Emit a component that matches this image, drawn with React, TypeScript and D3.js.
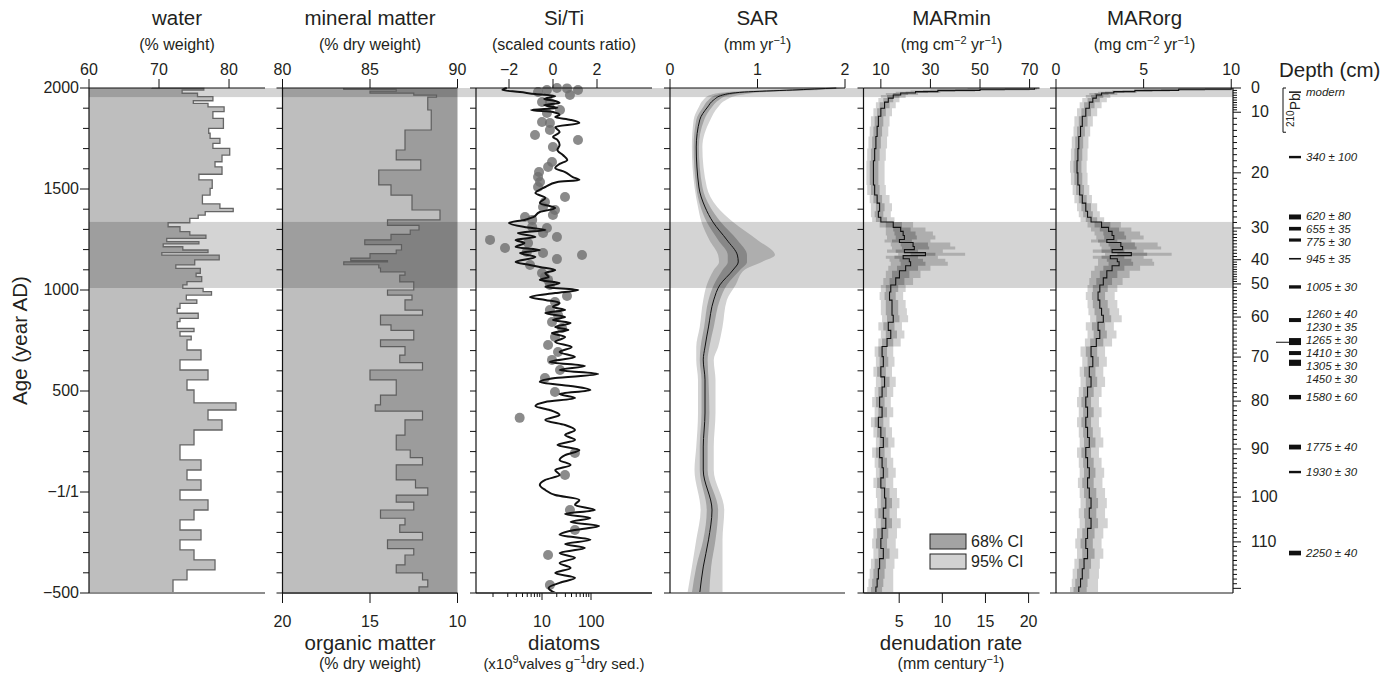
import React from "react";
import * as d3 from "d3";

// ---------- data (ages in years AD) ----------
const waterAge = [2000, 1998, 1990, 1974, 1957, 1937, 1924, 1907, 1883, 1850, 1800, 1776, 1751, 1726, 1701, 1668, 1635, 1610, 1573, 1545, 1503, 1470, 1426, 1404, 1388, 1371, 1355, 1333, 1313, 1289, 1272, 1256, 1239, 1228, 1214, 1198, 1185, 1173, 1149, 1124, 1107, 1083, 1066, 1041, 1025, 1008, 992, 975, 951, 934, 909, 885, 860, 843, 810, 794, 772, 753, 703, 654, 604, 555, 505, 441, 406, 357, 307, 233, 159, 109, 60, 10, -39, -89, -138, -188, -237, -287, -336, -386, -435];
const waterPct = [69, 76.4, 73.3, 75.5, 77.7, 74.9, 77, 79.3, 77.7, 79.2, 77.1, 77.3, 78.7, 77.7, 80.1, 79, 78, 79, 75.7, 77.6, 77.3, 76.2, 78.7, 80.6, 76.6, 75.6, 74.4, 71.3, 73, 74.4, 76.7, 71.1, 75.7, 70.6, 73.4, 77, 70.4, 78.6, 75.1, 72.4, 75.9, 75.3, 76.1, 74, 73.4, 76.3, 77.5, 73.9, 75.4, 73, 72.6, 75.6, 73, 72.6, 75, 73, 74.6, 74, 76, 73, 77, 74, 75, 81, 77, 79, 75, 73, 76, 74, 76, 73, 77, 75, 73, 76, 73, 75, 78, 74, 72];

const mineralAge = [2000, 1993, 1985, 1975, 1965, 1955, 1891, 1792, 1693, 1644, 1594, 1520, 1470, 1396, 1347, 1320, 1297, 1275, 1248, 1225, 1198, 1180, 1158, 1145, 1139, 1125, 1109, 1090, 1074, 1040, 1000, 975, 951, 900, 876, 827, 800, 753, 720, 678, 640, 604, 555, 480, 431, 400, 357, 282, 208, 170, 134, 60, 20, -15, -50, -89, -130, -163, -200, -237, -280, -312, -361, -400, -435, -470];
const mineralPct = [83.5, 86.5, 85, 87.5, 88.8, 88.3, 88.5, 87, 86.5, 87.9, 85.5, 86.2, 87.4, 89, 86, 87.8, 87.3, 86.2, 84.7, 86.8, 86.5, 85, 83.9, 86, 83.5, 85.5, 85.6, 87, 86.7, 87.5, 86, 87.4, 87, 88, 85.6, 86.2, 87.5, 85.6, 87, 86.7, 88, 85, 86.5, 85.6, 85.3, 88, 87, 86.5, 87.3, 88, 86.5, 87.6, 88.3, 86.5, 87.5, 85.6, 87, 86.7, 88, 86, 87.5, 87, 86.5, 88, 88.3, 87.8];

const siTiAge = [2000, 1990, 1980, 1970, 1960, 1946, 1936, 1926, 1916, 1901, 1891, 1881, 1866, 1856, 1842, 1827, 1807, 1782, 1757, 1743, 1718, 1693, 1668, 1644, 1624, 1604, 1584, 1559, 1545, 1535, 1510, 1480, 1456, 1431, 1406, 1386, 1361, 1347, 1332, 1312, 1297, 1282, 1262, 1248, 1233, 1213, 1198, 1183, 1163, 1139, 1124, 1114, 1099, 1084, 1064, 1050, 1035, 1015, 1000, 985, 965, 951, 936, 916, 901, 886, 866, 852, 837, 817, 802, 787, 767, 743, 718, 693, 668, 644, 624, 604, 584, 564, 545, 525, 505, 485, 465, 446, 426, 406, 381, 357, 332, 307, 282, 258, 233, 208, 183, 159, 134, 109, 84, 60, 35, 10, -15, -39, -64, -89, -109, -129, -148, -168, -188, -212, -237, -257, -277, -302, -326, -351, -376, -401, -425, -450, -475, -500];
const siTiRatio = [-2.1, -2.3, -1.5, -0.8, 0.1, -0.4, 0.1, 0.3, -0.4, 0.2, -1.0, 0, 0.3, 0.1, 0.8, 1.2, 0.1, 0.3, 0, 0.2, 0.3, 0.2, 0.45, 0.65, 0.3, 0.1, 0.55, 0.9, 1.2, 0.2, -0.35, -0.8, -0.35, -0.6, 0.1, -0.6, -0.9, -1.3, -2.0, -1.3, -0.35, -1.6, -0.8, -1.7, -1.3, -1.7, -0.6, -1.5, -0.8, -1.7, -1.05, -0.6, 0.1, -0.35, -0.2, -0.6, 0.3, -0.35, 1.15, 0.1, -1.05, -0.35, 0.3, 0, 0.55, -0.35, 0.55, 0, 0.8, 0.1, 0.7, -0.05, 0.55, 0.1, 0.85, 0.3, 1.0, -0.15, 1.45, 0.3, 2.05, 0.1, -0.6, 0.8, 1.7, 0.3, 1.0, -0.35, -0.8, -0.15, 0.3, -0.35, 0.55, 1.0, 0.55, 1.0, 0.2, 1.2, 0.55, 0.3, 0.8, 0.1, 0.3, -0.35, -0.6, -0.35, 0.1, 1.2, 1.0, 1.9, 0.55, 1.7, 0.8, 2.1, 1.0, 0.3, 1.7, 0.55, 1.45, 0.3, 1.0, 0.3, 0.8, 0.1, 1.0, 0.3, -0.2, 0.1];

const diatomAge = [2000, 1998, 1990, 1990, 1980, 1965, 1931, 1926, 1891, 1876, 1832, 1827, 1792, 1767, 1743, 1708, 1634, 1609, 1584, 1559, 1535, 1510, 1460, 1436, 1411, 1396, 1371, 1361, 1347, 1312, 1307, 1282, 1262, 1248, 1233, 1208, 1188, 1183, 1173, 1153, 1124, 1084, 1064, 1050, 1025, 970, 941, 901, 876, 842, 812, 767, 728, 693, 654, 604, 564, 495, 367, 193, 84, -89, -188, -312, -460];
const diatomConc = [20.2, 32.4, 12.6, 54.3, 8.3, 37.2, 10, 14.5, 23.3, 12.6, 10, 14.5, 14.5, 7.2, 54.3, 16.7, 16, 13.3, 8.7, 8.3, 9.1, 8.3, 29.5, 11.5, 10.5, 18.4, 16.7, 4.5, 6.3, 6.3, 12.6, 10.5, 20.2, 0.87, 5.2, 1.76, 4.9, 10.5, 65.5, 20.2, 5.7, 10, 11.5, 13.3, 14.5, 32.4, 18.4, 14.5, 21.2, 16, 25.6, 18.4, 13.3, 21.2, 16, 23.3, 11.5, 18.4, 3.5, 47, 29.5, 37.2, 47, 13.3, 14.5];

const sarAge = [2000, 1990, 1980, 1965, 1941, 1906, 1842, 1708, 1510, 1411, 1337, 1248, 1173, 1139, 1099, 1025, 951, 817, 718, 654, 555, 391, 223, 109, -89, -237, -371, -500];
const sarMedian = [1.9, 1.4, 0.85, 0.6, 0.5, 0.43, 0.34, 0.30, 0.33, 0.40, 0.49, 0.65, 0.77, 0.78, 0.72, 0.57, 0.50, 0.44, 0.40, 0.38, 0.40, 0.40, 0.38, 0.38, 0.48, 0.44, 0.38, 0.34];
const sarLo68 = [1.85, 1.25, 0.75, 0.53, 0.44, 0.38, 0.30, 0.27, 0.30, 0.35, 0.42, 0.55, 0.66, 0.66, 0.60, 0.50, 0.44, 0.39, 0.35, 0.34, 0.36, 0.36, 0.34, 0.34, 0.42, 0.38, 0.30, 0.25];
const sarHi68 = [1.95, 1.55, 0.98, 0.68, 0.56, 0.48, 0.39, 0.33, 0.37, 0.46, 0.58, 0.77, 0.88, 0.88, 0.80, 0.65, 0.57, 0.50, 0.45, 0.43, 0.44, 0.45, 0.43, 0.43, 0.55, 0.52, 0.47, 0.45];
const sarLo95 = [1.8, 1.1, 0.65, 0.46, 0.38, 0.33, 0.27, 0.25, 0.28, 0.32, 0.36, 0.45, 0.55, 0.56, 0.50, 0.42, 0.38, 0.34, 0.30, 0.30, 0.32, 0.32, 0.30, 0.28, 0.35, 0.30, 0.25, 0.20];
const sarHi95 = [2.0, 1.7, 1.1, 0.8, 0.64, 0.55, 0.46, 0.37, 0.42, 0.54, 0.72, 1.0, 1.2, 1.05, 0.85, 0.75, 0.65, 0.60, 0.55, 0.50, 0.52, 0.52, 0.50, 0.50, 0.62, 0.60, 0.60, 0.60];

const marAge = [2000, 1994, 1988, 1982, 1975, 1965, 1950, 1930, 1900, 1860, 1810, 1760, 1700, 1640, 1580, 1520, 1470, 1430, 1390, 1360, 1337, 1310, 1290, 1270, 1250, 1235, 1215, 1200, 1185, 1170, 1155, 1140, 1120, 1095, 1060, 1025, 990, 950, 910, 875, 840, 800, 760, 720, 670, 620, 570, 520, 470, 420, 370, 320, 270, 220, 170, 120, 70, 20, -30, -80, -130, -180, -230, -280, -330, -380, -430, -470];
const marMin = [72, 50, 33, 24, 18, 15, 13, 11.5, 10, 9, 8.5, 8, 7.5, 7, 7, 7.5, 8.5, 9.5, 9, 10, 15, 18, 19, 19.5, 17.5, 23, 23.5, 19.5, 28, 19, 21.5, 22, 20, 17.5, 16, 14, 13.5, 14.5, 14.5, 15, 13, 14, 12.5, 10.5, 11, 10, 11.5, 10.5, 9.5, 10.5, 9, 10, 11, 9.5, 10.5, 11, 10, 11.5, 12, 11, 12, 10.5, 10, 11, 9.5, 9, 8.5, 8];
const marMinLo68 = [60, 40, 27, 20, 15, 12.5, 11, 9.5, 8.5, 7.5, 7, 6.5, 6, 5.5, 5.5, 6, 7, 8, 7.5, 8, 12, 15, 15.5, 16, 14.5, 18, 18.5, 16, 22, 15.5, 17.5, 18, 16.5, 14.5, 13.5, 12, 11.5, 12, 12, 12.5, 11, 12, 10.5, 9, 9.5, 8.5, 10, 9, 8, 9, 7.5, 8.5, 9.5, 8, 9, 9.5, 8.5, 10, 10, 9, 10, 8.5, 8, 9, 7.5, 7, 6.5, 6];
const marMinHi68 = [73, 60, 40, 29, 21, 17.5, 15, 13.5, 12, 11, 10.5, 10, 9.5, 9, 9, 9.5, 10.5, 11.5, 11, 12.5, 18.5, 22, 24, 24.5, 22.5, 29, 29.5, 25, 32, 25, 27, 28, 25, 21.5, 19.5, 17, 16, 17, 17, 17.5, 15.5, 16.5, 15, 12.5, 13, 12, 13.5, 12.5, 11.5, 12.5, 11, 12, 13, 11.5, 12.5, 13, 12, 13.5, 14.5, 13.5, 14.5, 13, 12.5, 13.5, 12, 11.5, 11, 10.5];
const marMinLo95 = [45, 30, 22, 16, 12, 10, 9, 8, 7, 6, 5.5, 5, 4.5, 4.2, 4.2, 4.5, 5.5, 6, 6, 6.5, 9.5, 12, 12, 12.5, 11.5, 14, 14.5, 12.5, 17, 12, 13.5, 14, 13, 12, 11, 10, 9.5, 10, 10, 10.5, 9, 10, 9, 7.5, 8, 7, 8, 7.5, 6.5, 7.5, 6, 7, 8, 6.5, 7.5, 8, 7, 8, 8.5, 7.5, 8, 7, 6.5, 7, 6, 5.5, 5, 4.5];
const marMinHi95 = [74, 70, 48, 34, 25, 20, 17.5, 16, 14.5, 13.5, 13, 12.5, 12, 11.5, 11.5, 12, 13.5, 14.5, 14, 15.5, 23, 28, 31, 32, 30, 38, 40, 35, 44, 33, 36, 37, 30, 26, 23, 20, 19, 20, 20.5, 21, 18.5, 19.5, 18, 15, 15.5, 14.5, 16, 15, 14, 15, 13.5, 14.5, 15.5, 14, 15, 16, 15, 16.5, 17.5, 16.5, 18, 16.5, 16, 17, 15.5, 15, 15, 15];

const marOrg = [10, 7, 4.5, 3.3, 2.6, 2.3, 2.1, 1.9, 1.7, 1.5, 1.4, 1.3, 1.25, 1.2, 1.25, 1.35, 1.5, 1.7, 1.8, 2.0, 2.6, 3.0, 3.2, 3.3, 2.9, 3.7, 3.8, 3.2, 4.3, 3.1, 3.5, 3.6, 3.2, 2.9, 2.7, 2.5, 2.4, 2.5, 2.6, 2.7, 2.4, 2.5, 2.3, 2.0, 2.1, 1.9, 2.0, 1.8, 1.7, 1.8, 1.7, 1.8, 1.9, 1.7, 1.8, 1.9, 1.8, 1.9, 2.0, 1.9, 2.0, 1.8, 1.7, 1.8, 1.6, 1.5, 1.4, 1.3];
const marOrgLo68 = [8.5, 6, 3.8, 2.8, 2.2, 2.0, 1.8, 1.6, 1.45, 1.3, 1.2, 1.1, 1.05, 1.0, 1.05, 1.15, 1.3, 1.45, 1.55, 1.7, 2.2, 2.5, 2.7, 2.75, 2.4, 3.0, 3.1, 2.6, 3.5, 2.6, 2.9, 3.0, 2.7, 2.5, 2.3, 2.1, 2.05, 2.1, 2.2, 2.3, 2.05, 2.15, 1.95, 1.7, 1.8, 1.6, 1.7, 1.55, 1.45, 1.55, 1.45, 1.55, 1.6, 1.45, 1.55, 1.6, 1.5, 1.6, 1.7, 1.6, 1.65, 1.5, 1.4, 1.5, 1.3, 1.2, 1.1, 1.0];
const marOrgHi68 = [10.1, 8.5, 5.5, 3.9, 3.0, 2.7, 2.5, 2.2, 2.0, 1.8, 1.65, 1.55, 1.5, 1.45, 1.5, 1.6, 1.75, 2.0, 2.1, 2.35, 3.1, 3.6, 3.9, 4.0, 3.5, 4.5, 4.6, 3.9, 5.2, 3.9, 4.3, 4.4, 3.9, 3.5, 3.2, 2.95, 2.8, 2.95, 3.05, 3.15, 2.8, 2.9, 2.7, 2.35, 2.45, 2.25, 2.35, 2.15, 2.0, 2.15, 2.0, 2.1, 2.25, 2.0, 2.15, 2.25, 2.15, 2.3, 2.4, 2.3, 2.4, 2.2, 2.1, 2.2, 2.0, 1.9, 1.8, 1.75];
const marOrgLo95 = [7, 5, 3.2, 2.4, 1.9, 1.7, 1.5, 1.35, 1.2, 1.05, 1.0, 0.9, 0.85, 0.8, 0.85, 0.95, 1.05, 1.2, 1.3, 1.4, 1.8, 2.0, 2.2, 2.3, 2.0, 2.5, 2.6, 2.1, 2.8, 2.1, 2.4, 2.4, 2.2, 2.0, 1.9, 1.8, 1.7, 1.8, 1.85, 1.95, 1.7, 1.8, 1.65, 1.4, 1.5, 1.35, 1.4, 1.3, 1.2, 1.3, 1.2, 1.3, 1.35, 1.2, 1.3, 1.35, 1.25, 1.35, 1.4, 1.3, 1.35, 1.2, 1.1, 1.2, 1.05, 0.95, 0.9, 0.8];
const marOrgHi95 = [10.1, 10, 6.5, 4.6, 3.5, 3.1, 2.9, 2.6, 2.35, 2.1, 1.95, 1.85, 1.8, 1.75, 1.8, 1.9, 2.05, 2.35, 2.5, 2.75, 3.7, 4.3, 4.8, 5.0, 4.3, 5.8, 6.0, 5.0, 6.6, 5.0, 5.5, 5.6, 4.8, 4.2, 3.8, 3.5, 3.35, 3.5, 3.6, 3.75, 3.3, 3.45, 3.2, 2.8, 2.9, 2.7, 2.8, 2.6, 2.45, 2.6, 2.45, 2.55, 2.7, 2.45, 2.6, 2.75, 2.65, 2.8, 2.9, 2.8, 2.95, 2.7, 2.6, 2.7, 2.5, 2.45, 2.4, 2.4];

// age-depth model (depth in cm -> age AD)
const depthKnots = [0, 10, 20, 30, 40, 50, 60, 70, 80, 90, 100, 110, 121];
const ageKnots = [2000, 1880, 1580, 1307, 1150, 1030, 866, 668, 450, 213, -25, -247, -500];

// radiocarbon dates: label, depth (cm), sample thickness (cm)
const dateLabels = ["modern", "340 ± 100", "620 ± 80", "655 ± 35", "775 ± 30", "945 ± 35", "1005 ± 30", "1260 ± 40", "1230 ± 35", "1265 ± 30", "1410 ± 30", "1305 ± 30", "1450 ± 30", "1580 ± 60", "1775 ± 40", "1930 ± 30", "2250 ± 40"];
const dateDepth = [1.7, 17.4, 28, 30.3, 33.8, 39.7, 50.9, 60.75, 65.75, 66.5, 69, 71.1, 71.5, 79.1, 89.6, 94.8, 112.4];
const dateThick = [0.6, 0.4, 0.9, 1, 1, 0.5, 1, 1, 1, 1, 1, 1, 1, 1, 1, 0.5, 1];
const pbDepthRange = [0, 13.3];
const markerDepth = 66.3;

// shaded periods
const periods = [[2000, 1955], [1337, 1010]];

const MAR_PER_DENUDATION = 3.48;

const FONT = "'Liberation Sans', Arial, Helvetica, sans-serif";
const TOP = 88;
const BOT = 593;

type SP = { a: number; v: number };
type SB = { a: number; lo: number; hi: number };

function steps(ages: number[], vals: number[], end = -500): SP[] {
  const out: SP[] = [];
  ages.forEach((a, i) => {
    const next = i < ages.length - 1 ? ages[i + 1] : end;
    out.push({ a, v: vals[i] }, { a: next, v: vals[i] });
  });
  return out;
}

function stepBand(ages: number[], lo: number[], hi: number[], end = -500): SB[] {
  const out: SB[] = [];
  ages.forEach((a, i) => {
    const next = i < ages.length - 1 ? ages[i + 1] : end;
    out.push({ a, lo: lo[i], hi: hi[i] }, { a: next, lo: lo[i], hi: hi[i] });
  });
  return out;
}

function Sup({ parts, ...rest }: any) {
  let raised = false;
  return (
    <text {...rest}>
      {parts.map((p: any, i: number) => {
        if (typeof p === "string") {
          const dy = raised ? 6 : 0;
          raised = false;
          return <tspan key={i} dy={dy}>{p}</tspan>;
        }
        const dy = raised ? 0 : -6;
        raised = true;
        return <tspan key={i} dy={dy} fontSize={11}>{p[0]}</tspan>;
      })}
    </text>
  );
}

// push overlapping labels apart, keeping each cluster centred on its targets
function spreadLabels(targets: number[], gap: number): number[] {
  let groups = targets.map((t, i) => ({ idx: [i], pos: t }));
  let moved = true;
  while (moved) {
    moved = false;
    for (let i = 0; i < groups.length - 1; i++) {
      const g0 = groups[i], g1 = groups[i + 1];
      const end0 = g0.pos + (g0.idx.length - 1) * gap;
      if (g1.pos - end0 < gap) {
        const idx = g0.idx.concat(g1.idx);
        const mean = d3.mean(idx, (k) => targets[k]) as number;
        groups.splice(i, 2, { idx, pos: mean - ((idx.length - 1) * gap) / 2 });
        moved = true;
        break;
      }
    }
  }
  const out: number[] = [];
  groups.forEach((g) => g.idx.forEach((k, j) => (out[k] = g.pos + j * gap)));
  return out;
}

export default function App() {
  const y = d3.scaleLinear().domain([2000, -500]).range([TOP, BOT]);

  const xWater = d3.scaleLinear([60, 85.14], [89, 265]);
  const xMineral = d3.scaleLinear([80, 90], [282.5, 457.5]);
  const xOrganic = d3.scaleLinear([20, 10], [282.5, 457.5]);
  const xSi = d3.scaleLinear([-3.5, 4.5], [476, 652]);
  const xDia = d3.scaleLog([1, 100], [493, 591]);
  const xSar = d3.scaleLinear([0, 2], [670, 845]);
  const xMin = d3.scaleLinear([3, 74], [863.5, 1039.5]);
  const xDen = d3.scaleLinear([3 / MAR_PER_DENUDATION, 74 / MAR_PER_DENUDATION], [863.5, 1039.5]);
  const xOrg = d3.scaleLinear([0, 10.1], [1056, 1233]);
  const depthToAge = d3.scaleLinear().domain(depthKnots).range(ageKnots);
  const yDepth = (d: number) => y(depthToAge(d));

  const panels = [
    { x: xWater, l: 89, r: 265, ticks: [60, 70, 80], title: "water", sub: ["(% weight)"] },
    { x: xMineral, l: 282.5, r: 457.5, ticks: [80, 85, 90], title: "mineral matter", sub: ["(% dry weight)"] },
    { x: xSi, l: 476, r: 652, ticks: [-2, 0, 2], title: "Si/Ti", sub: ["(scaled counts ratio)"] },
    { x: xSar, l: 670, r: 845, ticks: [0, 1, 2], title: "SAR", sub: ["(mm yr", ["−1"], ")"] },
    { x: xMin, l: 863.5, r: 1039.5, ticks: [10, 30, 50, 70], title: "MARmin", sub: ["(mg cm", ["−2"], " yr", ["−1"], ")"] },
    { x: xOrg, l: 1056, r: 1233, ticks: [0, 5, 10], title: "MARorg", sub: ["(mg cm", ["−2"], " yr", ["−1"], ")"] },
  ];
  const fmt = (v: number) => (v < 0 ? "−" + Math.abs(v) : String(v));

  // step series
  const water = steps(waterAge, waterPct);
  const mineral = steps(mineralAge, mineralPct);
  const mMin = steps(marAge, marMin);
  const mOrg = steps(marAge, marOrg);
  const mMin68 = stepBand(marAge, marMinLo68, marMinHi68);
  const mMin95 = stepBand(marAge, marMinLo95, marMinHi95);
  const mOrg68 = stepBand(marAge, marOrgLo68, marOrgHi68);
  const mOrg95 = stepBand(marAge, marOrgLo95, marOrgHi95);

  const lineOf = (x: any) => d3.line<SP>().x((d) => x(d.v)).y((d) => y(d.a));
  const bandOf = (x: any) => d3.area<SB>().y((d) => y(d.a)).x0((d) => x(d.lo)).x1((d) => x(d.hi));

  const waterArea = d3.area<SP>().y((d) => y(d.a)).x0(xWater(60)).x1((d) => xWater(d.v))(water);
  const minLight = d3.area<SP>().y((d) => y(d.a)).x0(xMineral(80)).x1((d) => xMineral(d.v))(mineral);
  const minDark = d3.area<SP>().y((d) => y(d.a)).x0((d) => xMineral(d.v)).x1(xMineral(90))(mineral);

  const sarIdx = d3.range(sarAge.length);
  const sarBand = (lo: number[], hi: number[]) =>
    d3.area<number>().curve(d3.curveMonotoneY).y((i) => y(sarAge[i])).x0((i) => xSar(lo[i])).x1((i) => xSar(hi[i]))(sarIdx);
  const sarLine = d3.line<number>().curve(d3.curveMonotoneY).x((i) => xSar(sarMedian[i])).y((i) => y(sarAge[i]))(sarIdx);
  const siLine = d3.line<number>().curve(d3.curveMonotoneY).x((i) => xSi(siTiRatio[i])).y((i) => y(siTiAge[i]))(d3.range(siTiAge.length));

  const ageTicks = d3.range(-500, 2001, 100);
  const ageLabels = [2000, 1500, 1000, 500, 0, -500];
  const ageLabelText = (a: number) => (a === 0 ? "−1/1" : a < 0 ? "−" + Math.abs(a) : String(a));

  const dateY = dateDepth.map(yDepth);
  const labelY = spreadLabels(dateY, 13);

  const diaTicks = [...d3.range(1, 10), ...d3.range(10, 100, 10), 100];

  const C68 = "#a3a3a3";
  const C95 = "#d2d2d2";

  return (
    <svg width={1384} height={676} style={{ position: "absolute", left: 0, top: 0, background: "#fff" }} fontFamily={FONT} fill="#231f20">
      {/* fills */}
      <path d={waterArea || ""} fill="#bebebe" />
      <path d={minLight || ""} fill="#bebebe" />
      <path d={minDark || ""} fill="#9c9c9c" />
      <path d={sarBand(sarLo95, sarHi95) || ""} fill={C95} />
      <path d={sarBand(sarLo68, sarHi68) || ""} fill={C68} />
      <path d={bandOf(xMin)(mMin95) || ""} fill={C95} />
      <path d={bandOf(xMin)(mMin68) || ""} fill={C68} />
      <path d={bandOf(xOrg)(mOrg95) || ""} fill={C95} />
      <path d={bandOf(xOrg)(mOrg68) || ""} fill={C68} />

      {/* shaded periods */}
      {periods.map(([a0, a1], i) => (
        <rect key={i} x={89} width={1233 - 89} y={y(a0)} height={y(a1) - y(a0)} fill="#000" fillOpacity={0.17} />
      ))}

      {/* lines */}
      <path d={lineOf(xWater)(water) || ""} fill="none" stroke="#666" strokeWidth={1.3} />
      <path d={lineOf(xMineral)(mineral) || ""} fill="none" stroke="#5e5e5e" strokeWidth={1.2} />
      {diatomAge.map((a, i) => (
        <circle key={i} cx={xDia(diatomConc[i])} cy={y(a)} r={5} fill="#6e6e6e" fillOpacity={0.8} />
      ))}
      <path d={siLine || ""} fill="none" stroke="#111" strokeWidth={2} />
      <path d={sarLine || ""} fill="none" stroke="#111" strokeWidth={1} />
      <path d={lineOf(xMin)(mMin) || ""} fill="none" stroke="#111" strokeWidth={1.1} />
      <path d={lineOf(xOrg)(mOrg) || ""} fill="none" stroke="#111" strokeWidth={1.1} />

      {/* panel frames, top axes, titles */}
      {panels.map((p, k) => (
        <g key={k}>
          <line x1={p.l} x2={p.r} y1={BOT} y2={BOT} stroke="#8c8c8c" strokeWidth={2} />
          <line x1={p.l} x2={p.r} y1={TOP} y2={TOP} stroke="#111" strokeWidth={1.2} />
          <line x1={p.l} x2={p.l} y1={TOP} y2={BOT} stroke="#111" strokeWidth={1.2} />
          {ageTicks.map((a) => {
            const len = k === 0 && a % 500 === 0 ? 9 : 6;
            return <line key={a} x1={p.l - len} x2={p.l} y1={y(a)} y2={y(a)} stroke="#111" strokeWidth={1} />;
          })}
          {p.ticks.map((t) => (
            <g key={t}>
              <line x1={p.x(t)} x2={p.x(t)} y1={TOP} y2={TOP - 9} stroke="#111" strokeWidth={1} />
              <text x={p.x(t)} y={75} fontSize={16} textAnchor="middle">{fmt(t)}</text>
            </g>
          ))}
          <text x={(p.l + p.r) / 2} y={25} fontSize={20.5} textAnchor="middle">{p.title}</text>
          <Sup x={(p.l + p.r) / 2} y={50} fontSize={16} textAnchor="middle" parts={p.sub} />
        </g>
      ))}

      {/* left age axis labels */}
      {ageLabels.map((a) => (
        <text key={a} x={79} y={y(a) + 5} fontSize={16} textAnchor="end">{ageLabelText(a)}</text>
      ))}
      <text transform={`translate(27,${(TOP + BOT) / 2}) rotate(-90)`} fontSize={20.5} textAnchor="middle">Age (year AD)</text>

      {/* bottom axes */}
      <line x1={282.5} x2={457.5} y1={BOT} y2={BOT} stroke="#111" strokeWidth={1.2} />
      {[20, 15, 10].map((t) => (
        <g key={t}>
          <line x1={xOrganic(t)} x2={xOrganic(t)} y1={BOT} y2={BOT + 10} stroke="#111" />
          <text x={xOrganic(t)} y={627} fontSize={16} textAnchor="middle">{t}</text>
        </g>
      ))}
      <text x={370} y={650} fontSize={20.5} textAnchor="middle">organic matter</text>
      <text x={370} y={669} fontSize={16} textAnchor="middle">(% dry weight)</text>

      <line x1={476} x2={652} y1={BOT} y2={BOT} stroke="#111" strokeWidth={1.2} />
      {diaTicks.map((t) => (
        <line key={t} x1={xDia(t)} x2={xDia(t)} y1={BOT} y2={BOT + (t === 10 || t === 100 ? 7 : 4)} stroke="#111" />
      ))}
      {[10, 100].map((t) => (
        <text key={t} x={xDia(t)} y={627} fontSize={16} textAnchor="middle">{t}</text>
      ))}
      <text x={564} y={650} fontSize={20.5} textAnchor="middle">diatoms</text>
      <Sup x={564} y={669} fontSize={15} textAnchor="middle" parts={["(x10", ["9"], "valves g", ["−1"], "dry sed.)"]} />

      <line x1={863.5} x2={xDen(20)} y1={BOT} y2={BOT} stroke="#111" strokeWidth={1.2} />
      {[5, 10, 15, 20].map((t) => (
        <g key={t}>
          <line x1={xDen(t)} x2={xDen(t)} y1={BOT} y2={BOT + 10} stroke="#111" />
          <text x={xDen(t)} y={627} fontSize={16} textAnchor="middle">{t}</text>
        </g>
      ))}
      <text x={951} y={650} fontSize={20.5} textAnchor="middle">denudation rate</text>
      <Sup x={951} y={669} fontSize={16} textAnchor="middle" parts={["(mm century", ["−1"], ")"]} />

      {/* legend */}
      <rect x={930} y={534} width={36} height={15} fill={C68} stroke="#222" strokeWidth={1} />
      <rect x={930} y={554} width={36} height={15} fill={C95} stroke="#222" strokeWidth={1} />
      <text x={971} y={547} fontSize={16}>68% CI</text>
      <text x={971} y={567} fontSize={16}>95% CI</text>

      {/* depth axis */}
      <line x1={1233} x2={1233} y1={TOP} y2={BOT} stroke="#111" strokeWidth={1.2} />
      {d3.range(0, 121).map((d) => (
        <line key={d} x1={1233} x2={1233 + (d % 10 === 0 ? 8 : 4)} y1={yDepth(d)} y2={yDepth(d)} stroke="#111" strokeWidth={1} />
      ))}
      {d3.range(0, 111, 10).map((d) => (
        <text key={d} x={1251} y={yDepth(d) + 5} fontSize={16}>{d}</text>
      ))}
      <text x={1279} y={77} fontSize={20.5}>Depth (cm)</text>

      {/* 210Pb bracket */}
      <path
        d={`M1286,${yDepth(pbDepthRange[0])}H1283V${yDepth(pbDepthRange[1])}H1286`}
        fill="none" stroke="#111" strokeWidth={1}
      />
      <text transform={`translate(1300,${(yDepth(pbDepthRange[0]) + yDepth(pbDepthRange[1])) / 2}) rotate(-90)`} fontSize={14} textAnchor="middle">
        <tspan dy={-6} fontSize={10}>210</tspan>
        <tspan dy={6}>Pb</tspan>
      </text>

      {/* dates */}
      <line x1={1276} x2={1289} y1={yDepth(markerDepth)} y2={yDepth(markerDepth)} stroke="#111" strokeWidth={1} />
      {dateLabels.map((lab, i) => {
        const y0 = yDepth(dateDepth[i] - dateThick[i] / 2);
        const y1 = yDepth(dateDepth[i] + dateThick[i] / 2);
        return (
          <g key={i}>
            <rect x={1289} width={12} y={y0} height={Math.max(1.5, y1 - y0)} fill="#111" />
            <text x={1306} y={labelY[i] + 4} fontSize={11.5} fontStyle="italic">{lab}</text>
          </g>
        );
      })}
    </svg>
  );
}
